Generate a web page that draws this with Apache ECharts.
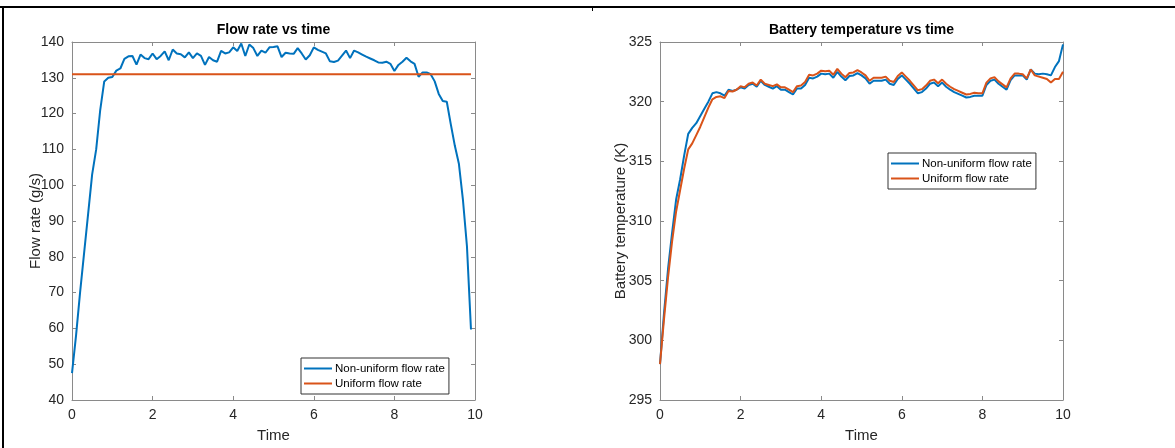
<!DOCTYPE html>
<html>
<head>
<meta charset="utf-8">
<script src="https://cdn.jsdelivr.net/npm/echarts@6.0.0/dist/echarts.min.js"></script>
<style>
html,body{margin:0;padding:0;background:#fff;}
#chart{width:1175px;height:448px;}
</style>
</head>
<body>
<div id="chart"></div>
<script>
// ---- Data ----
var timeFlow = [0,0.1,0.2,0.3,0.4,0.5,0.6,0.7,0.8,0.9,1,1.1,1.2,1.3,1.4,1.5,1.6,1.7,1.8,1.9,2,2.1,2.2,2.3,2.4,2.5,2.6,2.7,2.8,2.9,3,3.1,3.2,3.3,3.4,3.5,3.6,3.7,3.8,3.9,4,4.1,4.2,4.3,4.4,4.5,4.6,4.7,4.8,4.9,5,5.1,5.2,5.3,5.4,5.5,5.6,5.7,5.8,5.9,6,6.1,6.2,6.3,6.4,6.5,6.6,6.7,6.8,6.9,7,7.1,7.2,7.3,7.4,7.5,7.6,7.7,7.8,7.9,8,8.1,8.2,8.3,8.4,8.5,8.6,8.7,8.8,8.9,9,9.1,9.2,9.3,9.4,9.5,9.6,9.7,9.8,9.9];
var flowNonUniform = [47.5,58,70,81,92,103,110,121,129,130,
  130.2,132,132.6,135.3,136,136.1,133.7,136.5,135.5,135.2,
  136.8,135.2,136.1,137.4,134.9,137.9,136.8,136.6,135.7,137.1,
  135.5,136.8,136.1,133.6,135.8,134.9,134.5,137.5,136.8,137.1,
  138.5,137.5,139.6,136.1,139.3,138.3,136.1,137.6,137.0,138.5,
  138.6,138.8,135.8,137.0,136.8,136.7,138.3,136.8,135.1,136.3,
  138.5,137.8,137.3,136.8,134.6,134.4,134.8,136.2,137.6,135.5,
  137.6,137.1,136.5,135.9,135.4,134.9,134.3,134.2,134.5,133.9,
  131.9,133.6,134.5,135.6,134.6,133.9,130.3,131.5,131.5,131.0,
  129,125.5,123.5,123.3,117,111,106,96,83,59.7];
var timeFlowUniform = [0, 9.9];
var flowUniform = [131, 131];

var timeTemp = [0,0.1,0.2,0.3,0.4,0.5,0.6,0.7,0.8,0.9,1,1.1,1.2,1.3,1.4,1.5,1.6,1.7,1.8,1.9,2,2.1,2.2,2.3,2.4,2.5,2.6,2.7,2.8,2.9,3,3.1,3.2,3.3,3.4,3.5,3.6,3.7,3.8,3.9,4,4.1,4.2,4.3,4.4,4.5,4.6,4.7,4.8,4.9,5,5.1,5.2,5.3,5.4,5.5,5.6,5.7,5.8,5.9,6,6.1,6.2,6.3,6.4,6.5,6.6,6.7,6.8,6.9,7,7.1,7.2,7.3,7.4,7.5,7.6,7.7,7.8,7.9,8,8.1,8.2,8.3,8.4,8.5,8.6,8.7,8.8,8.9,9,9.1,9.2,9.3,9.4,9.5,9.6,9.7,9.8,9.9,10];
var tempNonUniform = [298,302.3,306,309,311.8,313.5,315.5,317.3,317.8,318.2,
  318.8,319.4,320.0,320.7,320.8,320.7,320.5,321.0,320.9,321.0,
  321.2,321.1,321.4,321.5,321.25,321.75,321.4,321.25,321.1,321.3,
  321.0,321.0,320.8,320.6,321.1,321.1,321.4,322.0,321.95,322.1,
  322.35,322.3,322.35,322.0,322.5,322.1,321.8,322.15,322.2,322.4,
  322.2,321.95,321.5,321.75,321.75,321.75,321.85,321.5,321.4,321.9,
  322.2,321.85,321.5,321.1,320.7,320.8,321.1,321.5,321.6,321.3,
  321.6,321.25,321.0,320.8,320.65,320.5,320.35,320.4,320.5,320.5,
  320.5,321.4,321.75,321.85,321.5,321.25,321.0,321.8,322.2,322.2,
  322.2,321.85,322.7,322.35,322.3,322.35,322.3,322.2,322.9,323.4,
  324.8];
var tempUniform = [298,301.8,305.3,308.3,310.8,312.6,314.4,316.0,316.5,317.2,
  317.9,318.7,319.5,320.2,320.4,320.45,320.3,320.9,320.85,321.0,
  321.3,321.2,321.5,321.6,321.35,321.85,321.5,321.4,321.3,321.45,
  321.2,321.2,321.0,320.8,321.3,321.35,321.65,322.25,322.2,322.35,
  322.6,322.55,322.6,322.25,322.75,322.35,322.05,322.4,322.45,322.65,
  322.45,322.2,321.75,322.0,322.0,322.0,322.1,321.75,321.65,322.15,
  322.45,322.1,321.75,321.35,320.95,321.05,321.35,321.75,321.85,321.55,
  321.85,321.5,321.25,321.05,320.9,320.75,320.6,320.65,320.75,320.7,
  320.7,321.6,321.95,322.05,321.7,321.45,321.2,321.95,322.35,322.35,
  322.3,321.95,322.7,322.2,322.1,322.0,321.9,321.6,321.9,321.9,
  322.5];

var xTicks = [0,2,4,6,8,10];
var flowTicks = [40,50,60,70,80,90,100,110,120,130,140];
var tempTicks = [295,300,305,310,315,320,325];

var titles = ['Flow rate vs time', 'Battery temperature vs time'];
var yNames = ['Flow rate (g/s)', 'Battery temperature (K)'];
var xName = 'Time';
var seriesNames = ['Non-uniform flow rate', 'Uniform flow rate'];

// ---- Build chart ----
function pairs(xs, ys){ return xs.map(function(x,i){ return [x, ys[i]]; }); }

var FONT = '"Liberation Sans", Arial, Helvetica, sans-serif';
var BOX = '#8a8a8a';
var TXT = '#262626';
var BLUE = '#0072BD', ORANGE = '#D95319';

var gridsPos = [{left:72, top:42, width:403, height:359}, {left:660, top:42, width:403, height:359}];
var yRanges = [
  {min: flowTicks[0], max: flowTicks[flowTicks.length-1], interval: flowTicks[1]-flowTicks[0], nameGap: 29},
  {min: tempTicks[0], max: tempTicks[tempTicks.length-1], interval: tempTicks[1]-tempTicks[0], nameGap: 32}
];

var xAxes = [], yAxes = [];
for (var g = 0; g < 2; g++) {
  var common = {gridIndex:g, type:'value', min:xTicks[0], max:xTicks[xTicks.length-1], interval:xTicks[1]-xTicks[0],
    splitLine:{show:false}, axisLine:{show:true, onZero:false, lineStyle:{color:BOX, width:1}},
    axisTick:{show:true, inside:true, length:4, lineStyle:{color:BOX}}};
  xAxes.push(Object.assign({}, common, {position:'bottom',
    axisLabel:{color:TXT, fontSize:14, fontFamily:FONT, margin:8},
    name:xName, nameLocation:'middle', nameGap:28, nameMoveOverlap:false,
    nameTextStyle:{color:TXT, fontSize:15, fontFamily:FONT}}));
  xAxes.push(Object.assign({}, common, {position:'top', axisLabel:{show:false}}));
  var yc = {gridIndex:g, type:'value', min:yRanges[g].min, max:yRanges[g].max, interval:yRanges[g].interval,
    splitLine:{show:false}, axisLine:{show:true, onZero:false, lineStyle:{color:BOX, width:1}},
    axisTick:{show:true, inside:true, length:4, lineStyle:{color:BOX}}};
  yAxes.push(Object.assign({}, yc, {position:'left',
    axisLabel:{color:TXT, fontSize:14, fontFamily:FONT, margin:8},
    name:yNames[g], nameLocation:'middle', nameGap:yRanges[g].nameGap, nameRotate:90, nameMoveOverlap:false,
    nameTextStyle:{color:TXT, fontSize:15, fontFamily:FONT}}));
  yAxes.push(Object.assign({}, yc, {position:'right', axisLabel:{show:false}}));
}

function lineSeries(name, data, color, g){
  return {type:'line', name:name, data:data, xAxisIndex:g*2, yAxisIndex:g*2,
    symbol:'none', showSymbol:false, smooth:false, clip:true,
    lineStyle:{color:color, width:2}, itemStyle:{color:color}, emphasis:{disabled:true}};
}

var series = [
  lineSeries(seriesNames[0], pairs(timeFlow, flowNonUniform), BLUE, 0),
  lineSeries(seriesNames[1], pairs(timeFlowUniform, flowUniform), ORANGE, 0),
  lineSeries(seriesNames[0], pairs(timeTemp, tempNonUniform), BLUE, 1),
  lineSeries(seriesNames[1], pairs(timeTemp, tempUniform), ORANGE, 1)
];

function legend(left, top){
  return {left:left, top:top, orient:'vertical', padding:[4,4,4,3], itemGap:2,
    icon:'rect', itemWidth:28, itemHeight:2, borderColor:'#333', borderWidth:1, backgroundColor:'#fff',
    textStyle:{color:'#000', fontSize:11.5, fontFamily:FONT, padding:[0,0,0,-2], lineHeight:13},
    data:seriesNames, selectedMode:false, z:10};
}

var option = {
  animation:false,
  backgroundColor:'#fff',
  title:[
    {text:titles[0], left:273.5, top:23, textAlign:'center', padding:0,
      textStyle:{fontSize:14, fontWeight:'bold', color:'#000', fontFamily:FONT}},
    {text:titles[1], left:861.5, top:23, textAlign:'center', padding:0,
      textStyle:{fontSize:14, fontWeight:'bold', color:'#000', fontFamily:FONT}}
  ],
  grid:gridsPos,
  xAxis:xAxes,
  yAxis:yAxes,
  legend:[legend(301, 358), legend(888, 153)],
  series:series,
  graphic:[
    {type:'line', shape:{x1:0, y1:7, x2:1175, y2:7}, style:{stroke:'#000', lineWidth:2}, silent:true},
    {type:'line', shape:{x1:3, y1:7, x2:3, y2:448}, style:{stroke:'#000', lineWidth:2}, silent:true},
    {type:'line', shape:{x1:592.5, y1:7, x2:592.5, y2:11}, style:{stroke:'#000', lineWidth:1}, silent:true}
  ]
};

var chart = echarts.init(document.getElementById('chart'), null, {renderer:'canvas'});
chart.setOption(option);
</script>
</body>
</html>
